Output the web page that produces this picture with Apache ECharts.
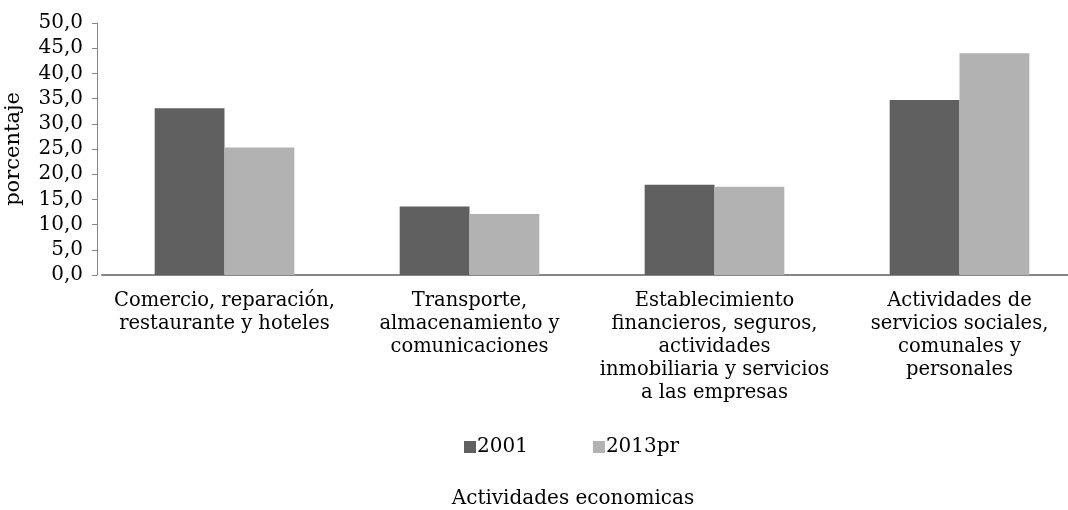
<!DOCTYPE html>
<html>
<head>
<meta charset="utf-8">
<script src="https://cdn.jsdelivr.net/npm/echarts@6/dist/echarts.min.js"></script>
<style>
  html, body { margin: 0; padding: 0; background: #fff; overflow: hidden; }
  #main { width: 1090px; height: 510px; }
</style>
</head>
<body>
<div id="main"></div>
<script>
var categories = [
    'Comercio, reparación,\nrestaurante y hoteles',
    'Transporte,\nalmacenamiento y\ncomunicaciones',
    'Establecimiento\nfinancieros, seguros,\nactividades\ninmobiliaria y servicios\na las empresas',
    'Actividades de\nservicios sociales,\ncomunales y\npersonales'
];
var serie2001 = [33.1, 13.6, 17.9, 34.7];
var serie2013 = [25.3, 12.1, 17.5, 44.0];

var fuente = 'DejaVu Serif';
var chart = echarts.init(document.getElementById('main'));

// el eje x sigue más allá del borde derecho, como en el original
chart.setOption({
    animation: false,
    textStyle: { fontFamily: fuente, color: '#000' },
    grid: { left: 102, top: 23, width: 980, height: 252, outerBoundsMode: 'none', containLabel: false },
    legend: {
        data: ['2001', '2013pr'],
        left: 459,
        top: 432,
        itemWidth: 12,
        itemHeight: 12,
        itemGap: 65,
        icon: 'rect',
        textStyle: { fontFamily: fuente, fontSize: 20, color: '#000', padding: [0, 0, 0, -4] }
    },
    title: {
        text: 'Actividades economicas',
        left: 568,
        textAlign: 'center',
        top: 484,
        textStyle: { fontFamily: fuente, fontSize: 20, fontWeight: 'normal', color: '#000' }
    },
    xAxis: {
        type: 'category',
        data: categories,
        axisLine: { lineStyle: { color: '#868686', width: 2 } },
        axisTick: { show: false },
        axisLabel: {
            interval: 0,
            fontFamily: fuente,
            fontSize: 19.5,
            lineHeight: 23,
            color: '#000',
            margin: 14
        }
    },
    yAxis: {
        type: 'value',
        min: 0,
        max: 50,
        interval: 5,
        offset: 5,
        name: 'porcentaje',
        nameLocation: 'middle',
        nameGap: 73,
        nameTextStyle: { fontFamily: fuente, fontSize: 21, color: '#000' },
        splitLine: { show: false },
        axisLine: { show: true, lineStyle: { color: '#868686', width: 1 } },
        axisTick: { show: true, length: 5, lineStyle: { color: '#868686' } },
        axisLabel: {
            fontFamily: fuente,
            fontSize: 20,
            color: '#000',
            margin: 14,
            formatter: function (v) { return v.toFixed(1).replace('.', ','); }
        }
    },
    series: [
        {
            name: '2001',
            type: 'bar',
            data: serie2001,
            barGap: '0%',
            barCategoryGap: '43%',
            itemStyle: { color: '#606060' }
        },
        {
            name: '2013pr',
            type: 'bar',
            data: serie2013,
            itemStyle: { color: '#b2b2b2' }
        }
    ]
});
</script>
</body>
</html>
